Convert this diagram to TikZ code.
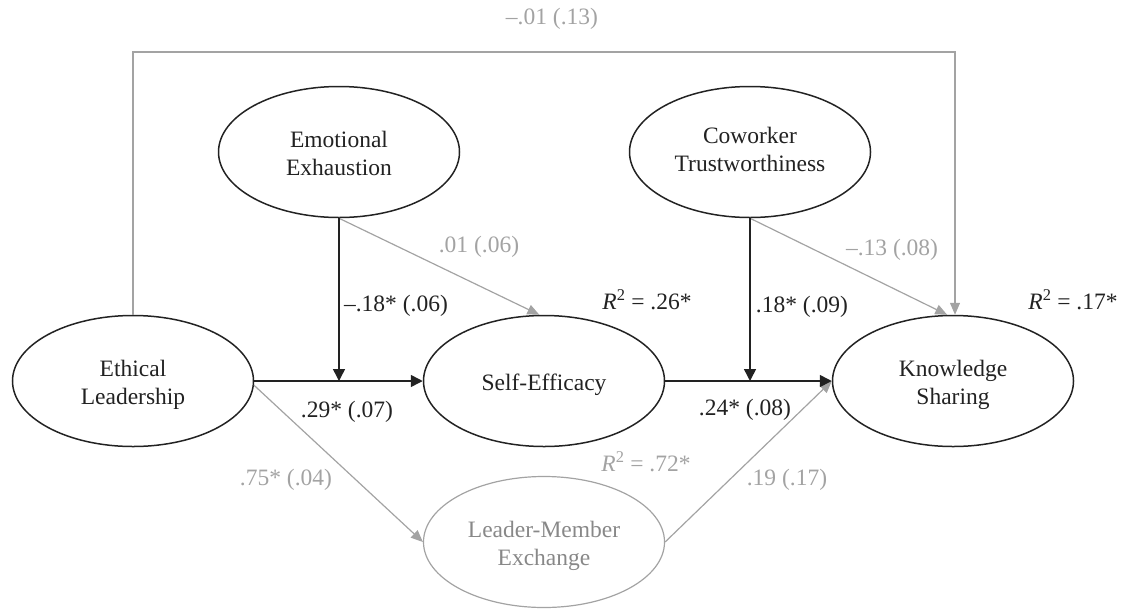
\documentclass[tikz,border=0pt]{standalone}
\usepackage{fontspec}
\setmainfont{Liberation Serif}
\usetikzlibrary{shapes.geometric,arrows.meta}
\definecolor{ink}{HTML}{222222}
\definecolor{lgray}{HTML}{A3A3A3}
\definecolor{mgray}{HTML}{888888}
\newcommand\hgt[1]{\rule{0pt}{#1}}
\newcommand\dpt[1]{\rule[-#1]{0pt}{#1}}
\begin{document}
\begin{tikzpicture}[x=1pt,y=-1pt,
  every node/.style={font=\fontsize{23.5}{28}\selectfont},
  lat/.style={ellipse, draw=ink, line width=1.5pt, minimum width=241pt, minimum height=131pt, inner sep=0pt, align=center, text=ink},
  latg/.style={lat, draw=lgray, line width=1.2pt, text=mgray},
  pathb/.style={draw=ink, line width=1.5pt, -{Triangle[length=12pt,width=12pt]}},
  pathg/.style={draw=lgray, line width=1.2pt, -{Triangle[length=12pt,width=10pt]}},
  lab/.style={inner sep=0pt, text=ink},
  labg/.style={inner sep=0pt, text=lgray}]
\useasboundingbox (0,0) rectangle (1123,608);
\node[lat] (EL) at (133,381) {\hgt{25pt}Ethical\\Leadership\dpt{5.5pt}};
\node[lat] (EE) at (339,152) {\hgt{24pt}Emotional\\Exhaustion\dpt{6pt}};
\node[lat] (SE) at (544,381) {\hgt{25pt}Self-Efficacy\dpt{7pt}};
\node[lat] (CT) at (750,152) {\hgt{17pt}Coworker\\Trustworthiness\dpt{6.4pt}};
\node[lat] (KS) at (953,381) {\hgt{25pt}Knowledge\\Sharing\dpt{5.5pt}};
\node[latg] (LMX) at (544,542) {\hgt{25pt}Leader-Member\\Exchange\dpt{7pt}};
\coordinate (topy) at (0,52);
% gray paths
\draw[pathg] (EL.north) -- (EL.north |- topy) -| ([xshift=2pt]KS.north);
\draw[pathg] (EE.south) -- (SE.94);
\draw[pathg] (CT.south) -- (KS.95);
\draw[pathg] (EL.-2) -- (LMX.west);
\draw[pathg] (LMX.east) -- (KS.west);
% black paths
\draw[pathb] (EL.east) -- (SE.west);
\draw[pathb] (SE.east) -- (KS.west);
\draw[pathb] (EE.south) -- (EE.south |- EL.east);
\draw[pathb] (CT.south) -- (CT.south |- SE.east);
% labels
\node[labg] (l1) at (552,19) {\textendash.01 (.13)};
\node[labg] (l2) at (479,247) {.01 (.06)};
\node[lab] (l3) at (396,306) {\textendash.18* (.06)};
\node[lab] (l4) at (647,300) {\textit{R}\textsuperscript{2} = .26*};
\node[lab] (l5) at (802,307) {.18* (.09)};
\node[labg] (l6) at (892,250) {\textendash.13 (.08)};
\node[lab] (l7) at (1073,300) {\textit{R}\textsuperscript{2} = .17*};
\node[lab] (l8) at (347,412) {.29* (.07)};
\node[lab] (l9) at (745,410) {.24* (.08)};
\node[labg] (l10) at (646,462) {\textit{R}\textsuperscript{2} = .72*};
\node[labg] (l11) at (787,480) {.19 (.17)};
\node[labg] (l12) at (286,480) {.75* (.04)};
\end{tikzpicture}
\end{document}
